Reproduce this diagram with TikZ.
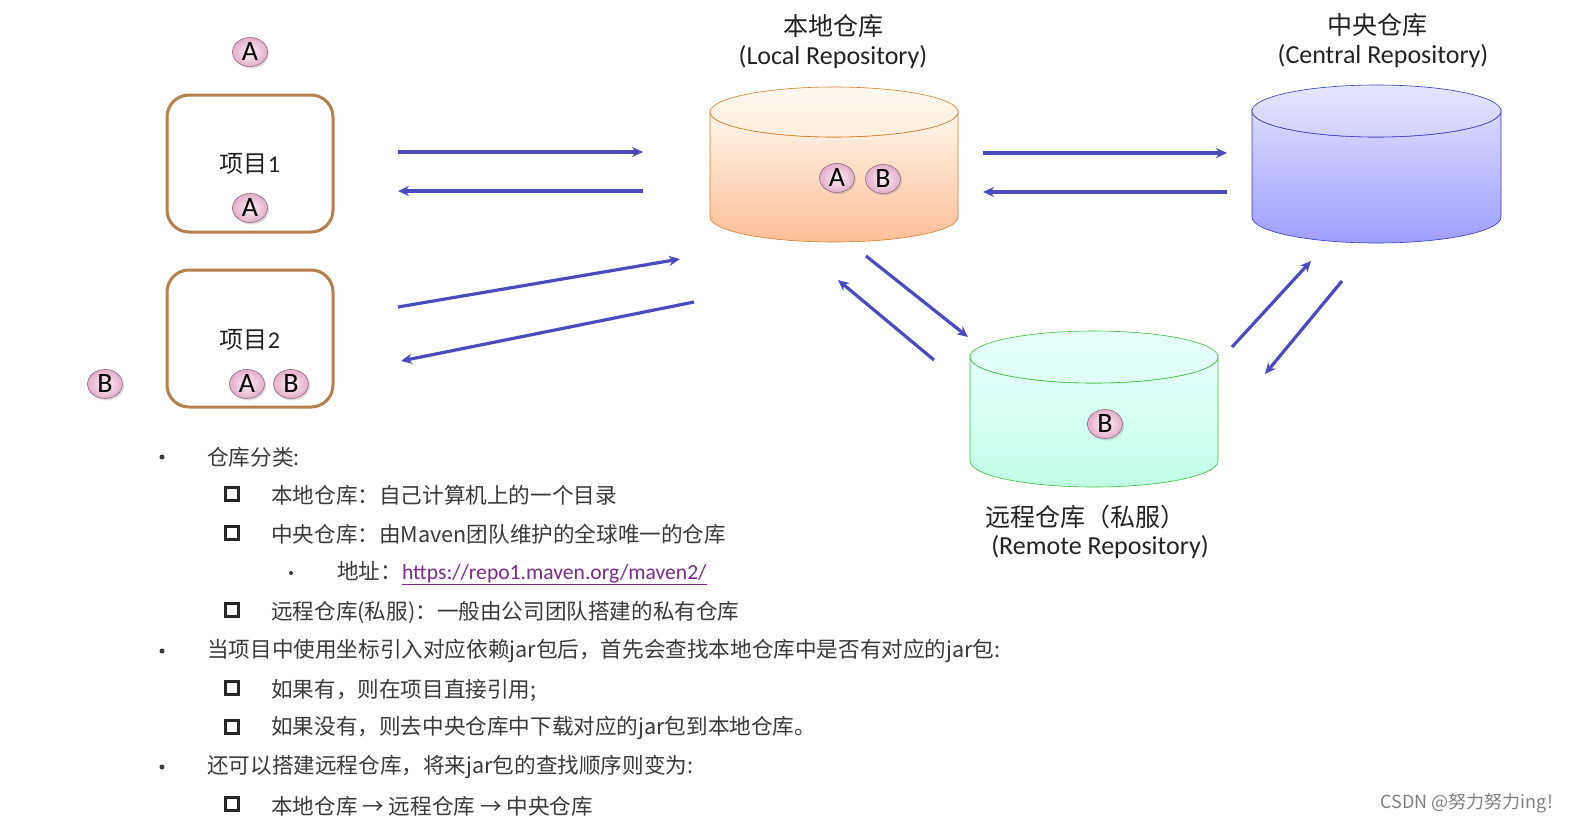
\documentclass[tikz,border=0pt]{standalone}
\usepackage{fontspec}
\setmainfont{Carlito}
\newfontfamily\cjk{Noto Sans CJK SC}
\usetikzlibrary{arrows.meta,shapes.geometric,shadows}
\definecolor{arr}{HTML}{4B4BBE}
\definecolor{boxc}{HTML}{B5804F}
\definecolor{txt}{HTML}{3A3A3A}
\definecolor{lbl}{HTML}{222222}
\definecolor{url}{HTML}{7A2A8A}
\definecolor{bin}{HTML}{FBF0F5}
\definecolor{bout}{HTML}{E2AECA}
\definecolor{bdr}{HTML}{9A6A84}
\tikzset{
  flow/.style={draw=arr,line width=3.2pt,-{Stealth[length=11pt,width=10pt]}},
  proj/.style={draw=boxc,line width=3pt,rounded corners=22pt,minimum width=166pt,minimum height=137pt},
  badge/.style={ellipse,draw=bdr,line width=0.6pt,inner color=bin,outer color=bout,
     minimum width=35pt,minimum height=29pt,inner sep=0pt,font=\fontsize{28}{28}\selectfont,
     drop shadow={shadow xshift=1.5pt,shadow yshift=-2pt,opacity=0.25}},
  lab/.style={font=\cjk\fontsize{25}{25}\selectfont,text=lbl},
  sublab/.style={font=\fontsize{26}{26}\selectfont,text=lbl},
  item/.style={anchor=west,font=\cjk\fontsize{21.6}{21.6}\selectfont,text=txt,inner sep=0pt},
  dot/.style={circle,fill=txt,inner sep=0pt,minimum size=5pt},
  sq/.style={draw=black!85,line width=3pt,inner sep=0pt,minimum size=13pt},
}
\begin{document}
\begin{tikzpicture}[x=1pt,y=-1pt]
\useasboundingbox[fill=white] (0,0) rectangle (1573,825);

% ---------- projects ----------
\node[proj] (p1) at (250,163.5) {};
\node[proj] (p2) at (250,338.5) {};
\node[font=\cjk\fontsize{24}{24}\selectfont,text=lbl] (p1l) at (250,164) {项目\fontspec{Carlito}1};
\node[font=\cjk\fontsize{24}{24}\selectfont,text=lbl] (p2l) at (250,340) {项目\fontspec{Carlito}2};
\node[badge] (a0) at (250,52) {A};
\node[badge] (a1) at (250,208) {A};
\node[badge] (a2) at (247,384) {A};
\node[badge] (b2) at (291,384) {B};
\node[badge] (b0) at (105,384) {B};

% ---------- cylinders ----------
% local
\shade[top color=orange!8!white,bottom color=orange!45!pink!70!white,draw=brown!70!orange,line width=0.6pt]
  (710,112) -- (710,217) arc[start angle=180,end angle=0,x radius=124,y radius=25] -- (958,112)
  arc[start angle=0,end angle=180,x radius=124,y radius=25] -- cycle;
\shade[top color=orange!6!white,bottom color=orange!14!white,draw=brown!70!orange,line width=0.6pt]
  (834,112) ellipse[x radius=124,y radius=25];
\node (local) at (834,165) {};
% central
\shade[top color=blue!15!white,bottom color=blue!38!white,draw=blue!55!gray,line width=0.6pt]
  (1252,111) -- (1252,217) arc[start angle=180,end angle=0,x radius=124.5,y radius=26] -- (1501,111)
  arc[start angle=0,end angle=180,x radius=124.5,y radius=26] -- cycle;
\shade[top color=blue!10!white,bottom color=blue!18!white,draw=blue!55!gray,line width=0.6pt]
  (1376.5,111) ellipse[x radius=124.5,y radius=26];
\node (central) at (1376,165) {};
% remote
\shade[top color=green!12!cyan!10!white,bottom color=green!40!cyan!25!white,draw=green!50!gray,line width=0.6pt]
  (970,357) -- (970,461) arc[start angle=180,end angle=0,x radius=124,y radius=26] -- (1218,357)
  arc[start angle=0,end angle=180,x radius=124,y radius=26] -- cycle;
\shade[top color=green!12!cyan!10!white,bottom color=green!18!cyan!12!white,draw=green!50!gray,line width=0.6pt]
  (1094,357) ellipse[x radius=124,y radius=26];
\node (remote) at (1094,410) {};

\node[badge] (la) at (837,178) {A};
\node[badge] (lb) at (883,179) {B};
\node[badge] (rb) at (1105,424) {B};

% ---------- labels ----------
\node[lab] (ll1) at (833,26) {本地仓库};
\node[sublab] (ll2) at (833,57) {(Local Repository)};
\node[lab] (cl1) at (1377,25) {中央仓库};
\node[sublab] (cl2) at (1383,56) {(Central Repository)};
\node[lab] (rl1) at (1085,517) {远程仓库（私服）};
\node[sublab] (rl2) at (1100,547) {(Remote Repository)};

% ---------- arrows ----------
\coordinate (e1s) at (398,152); \coordinate (e1e) at (643,152);
\coordinate (e2s) at (643,191); \coordinate (e2e) at (398,191);
\coordinate (e3s) at (398,307); \coordinate (e3e) at (680,259);
\coordinate (e4s) at (694,302); \coordinate (e4e) at (401,361);
\coordinate (e5s) at (983,153); \coordinate (e5e) at (1227,153);
\coordinate (e6s) at (1227,192); \coordinate (e6e) at (983,192);
\coordinate (e7s) at (866,256); \coordinate (e7e) at (968,337);
\coordinate (e8s) at (934,360); \coordinate (e8e) at (838,280);
\coordinate (e9s) at (1232,347); \coordinate (e9e) at (1311,261);
\coordinate (e10s) at (1342,281); \coordinate (e10e) at (1265,374);
\foreach \i in {1,...,10} { \draw[flow] (e\i s) -- (e\i e); }

% ---------- bullet list ----------
\node[dot] (d1) at (162,457) {};
\node[item] (t1) at (207,457) {仓库分类:};
\node[sq] (s1) at (232,494) {};
\node[item] (t2) at (271,495) {本地仓库：自己计算机上的一个目录};
\node[sq] (s2) at (232,533) {};
\node[item] (t3) at (271,534) {中央仓库：由Maven团队维护的全球唯一的仓库};
\node[dot,minimum size=4pt] (d2) at (291,573) {};
\node[item] (t4) at (337,573) {地址：\fontspec{Carlito}\textcolor{url}{\underline{https://repo1.maven.org/maven2/}}};
\node[sq] (s3) at (232,610) {};
\node[item] (t5) at (271,612) {远程仓库(私服)：一般由公司团队搭建的私有仓库};
\node[dot] (d3) at (162,651) {};
\node[item] (t6) at (207,651) {当项目中使用坐标引入对应依赖jar包后，首先会查找本地仓库中是否有对应的jar包:};
\node[sq] (s4) at (232,688) {};
\node[item] (t7) at (271,690) {如果有，则在项目直接引用;};
\node[sq] (s5) at (232,727) {};
\node[item] (t8) at (271,728) {如果没有，则去中央仓库中下载对应的jar包到本地仓库。};
\node[dot] (d4) at (162,767) {};
\node[item] (t9) at (207,767) {还可以搭建远程仓库，将来jar包的查找顺序则变为:};
\node[sq] (s6) at (232,804) {};
\node[item] (t10) at (271,806) {本地仓库 → 远程仓库 → 中央仓库};

\node[anchor=east,font=\cjk\fontsize{18}{18}\selectfont,text=black!50,inner sep=0pt] (wm) at (1553,803) {CSDN @努力努力ing!};
\end{tikzpicture}
\end{document}
